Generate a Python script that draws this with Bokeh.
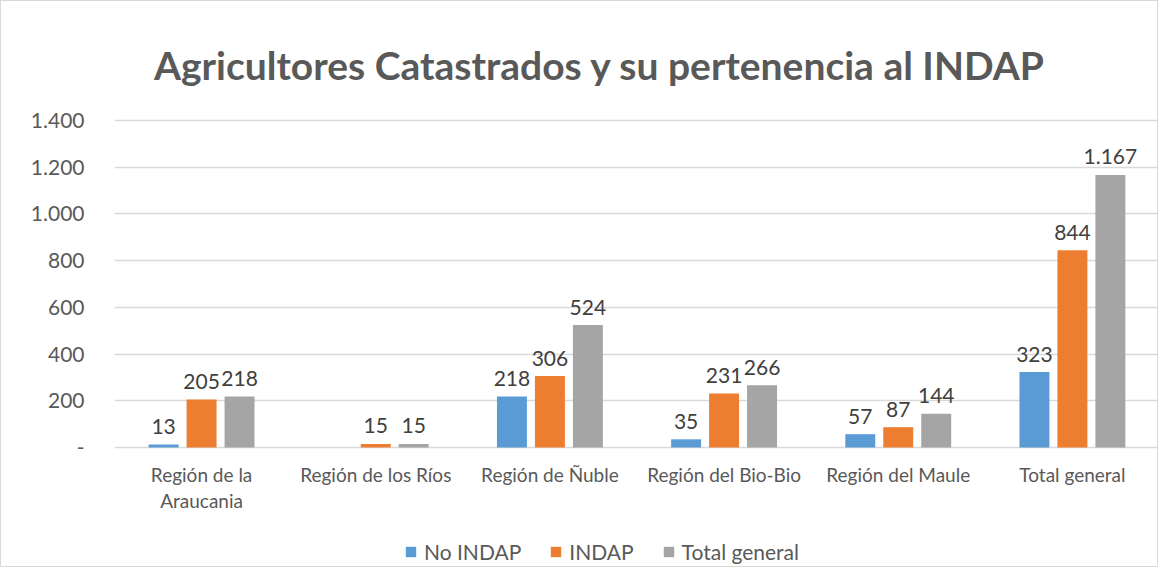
from bokeh.plotting import figure
from bokeh.models import ColumnDataSource, Range1d, FixedTicker, Legend, LegendItem, Label
from bokeh.core.properties import value
from bokeh.embed import file_html
from bokeh.resources import INLINE

categories = ["Región de la\nAraucania", "Región de los Ríos", "Región de Ñuble",
              "Región del Bio-Bio", "Región del Maule", "Total general"]
no_indap = [13, 0, 218, 35, 57, 323]
indap = [205, 15, 306, 231, 87, 844]
total = [218, 15, 524, 266, 144, 1167]
series_names = ["No INDAP", "INDAP", "Total general"]
colors = ["#5B9BD5", "#ED7D31", "#A5A5A5"]
y_ticks = [0, 200, 400, 600, 800, 1000, 1200, 1400]

FONT = "Lato"
GRAY = "#595959"

W, H = 1158, 567
LEFT, RIGHT = 113, 0
Y0_PX, Y1400_PX = 446, 119          # pixel rows of value 0 and 1400
per_px = 1400 / (Y0_PX - Y1400_PX)
y_top = 1400 + Y1400_PX * per_px
y_bot = -(H - Y0_PX) * per_px

def fmt(v):
    if v == 0:
        return "-"
    return f"{v:,}".replace(",", ".")

p = figure(width=W, height=H, output_backend="svg", toolbar_location=None,
           x_range=Range1d(0, 6), y_range=Range1d(y_bot, y_top),
           min_border_left=LEFT, min_border_right=RIGHT, min_border_top=0,
           min_border_bottom=0, background_fill_color="white",
           border_fill_color="white")
p.outline_line_color = None
p.styles = {"border": "1px solid #d9d9d9"}

centers = [i + 0.5 for i in range(len(categories))]
offsets = [-0.218, 0.0, 0.218]
bar_w = 0.172

items = []
for vals, name, col, off in zip([no_indap, indap, total], series_names, colors, offsets):
    xs = [c + off for c in centers]
    src = ColumnDataSource(dict(x=xs, top=vals))
    r = p.vbar(x="x", top="top", width=bar_w, bottom=0, fill_color=col,
               line_color=None, source=src)
    items.append(LegendItem(label=name, renderers=[r]))
    lx = [x for x, v in zip(xs, vals) if v > 0]
    ly = [v for v in vals if v > 0]
    lt = [fmt(v) for v in vals if v > 0]
    lsrc = ColumnDataSource(dict(x=lx, y=ly, t=lt))
    p.text(x="x", y="y", text="t", source=lsrc, text_align="center",
           text_baseline="alphabetic", y_offset=-18, text_font=value(FONT),
           text_font_size="21px", text_color="#404040")

# category labels along the value-0 baseline
csrc = ColumnDataSource(dict(x=centers, y=[0] * len(centers), t=categories))
p.text(x="x", y="y", text="t", source=csrc, text_align="center", text_baseline="top",
       y_offset=15, text_font=value(FONT), text_font_size="19px", text_color=GRAY,
       text_line_height=1.15)

p.xaxis.visible = False

p.yaxis.ticker = FixedTicker(ticks=y_ticks)
p.yaxis.major_label_overrides = {t: fmt(t) for t in y_ticks}
p.yaxis.major_label_text_font = FONT
p.yaxis.major_label_text_font_size = "21px"
p.yaxis.major_label_text_color = GRAY
p.yaxis.major_label_standoff = 24
p.yaxis.axis_line_color = None
p.yaxis.major_tick_line_color = None
p.yaxis.minor_tick_line_color = None

p.xgrid.grid_line_color = None
p.ygrid.grid_line_color = "#d9d9d9"
p.ygrid.grid_line_width = 1.5

title = Label(x=2.787, y=1400, y_offset=(Y1400_PX - 63),
              text="Agricultores Catastrados y su pertenencia al INDAP",
              text_font=FONT, text_font_size="39px", text_font_style="bold",
              text_color=GRAY, text_align="center", text_baseline="middle")
p.add_layout(title)

legend = Legend(items=items, orientation="horizontal", location=(290, 4),
                border_line_color=None, background_fill_alpha=0,
                label_text_font=FONT, label_text_font_size="21px",
                label_text_color=GRAY, glyph_width=13, glyph_height=13,
                label_standoff=7, spacing=28, padding=0, margin=0)
p.add_layout(legend)

open("out.html", "w").write(file_html(p, INLINE))
